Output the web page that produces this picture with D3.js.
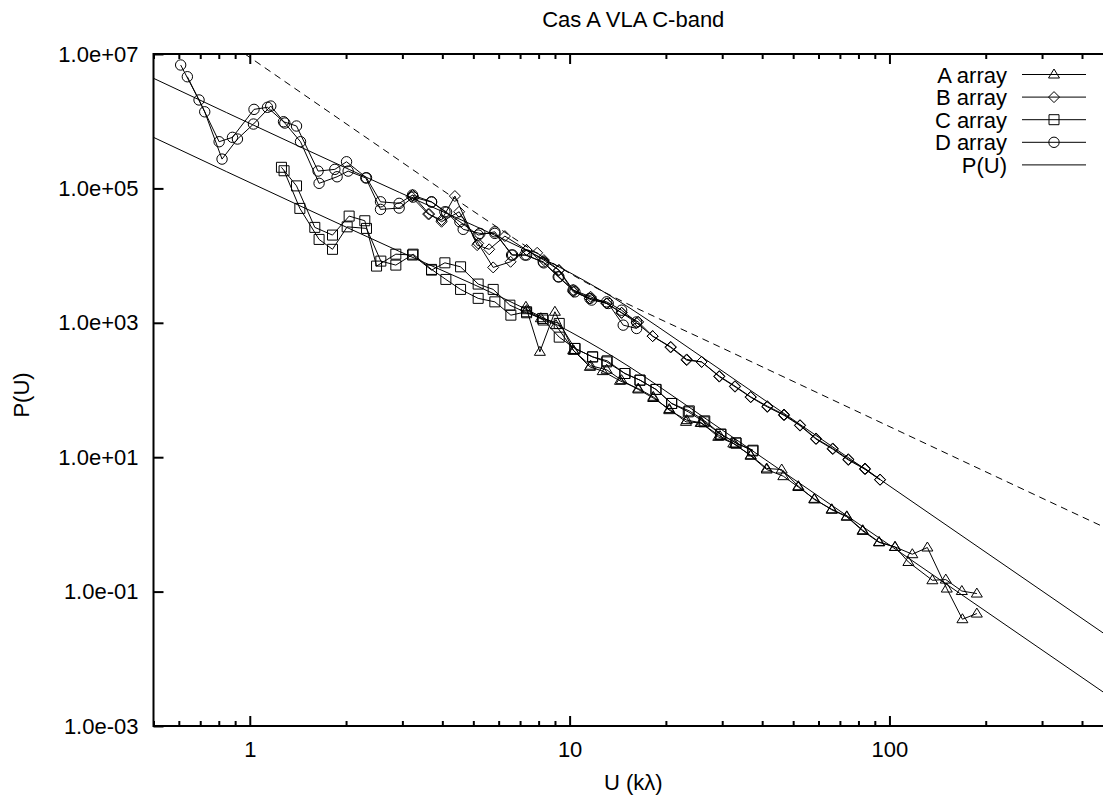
<!DOCTYPE html>
<html><head><meta charset="utf-8">
<script src="https://cdn.jsdelivr.net/npm/d3@7"></script>
<style>
body{margin:0;background:#fff}
text{font-family:"Liberation Sans",Arial,Helvetica,sans-serif;font-size:22px;fill:#000}
</style></head><body>
<svg id="chart" width="1103" height="797"></svg>
<script>
// ---- data: U in kilo-wavelengths, P(U) power ----
// each array has two interleaved sub-series (two IFs)
const aU1 = [7.300, 8.073, 8.995, 10.26, 11.57, 12.69, 14.37, 16.39, 18.26, 20.49, 23.23, 25.87, 29.16, 32.49, 36.83, 41.33, 46.04, 51.90, 58.23, 66.01, 73.55, 82.50, 92.80, 104.1, 117.9, 131.4, 151.1, 169.1, 187.6];
const aP1 = [1730, 370, 1460, 392, 221, 191, 137, 105, 79.1, 50.1, 35.6, 32.4, 20.1, 16.0, 10.7, 6.79, 6.56, 3.70, 2.35, 1.68, 1.32, 0.819, 0.548, 0.462, 0.360, 0.453, 0.111, 0.0388, 0.0471];
const aU2 = [7.336, 8.131, 9.061, 10.31, 11.63, 13.06, 14.54, 16.39, 18.26, 20.49, 23.11, 25.69, 29.52, 32.89, 36.83, 41.33, 46.58, 51.90, 58.23, 66.01, 73.55, 82.50, 92.80, 104.1, 114.6, 136.2, 150.0, 168.4, 187.6];
const aP2 = [1540, 1170, 923, 382, 230, 200, 140, 102, 76, 52, 33.6, 32.4, 20.6, 15.6, 10.5, 6.56, 5.22, 3.6, 2.4, 1.65, 1.30, 0.80, 0.54, 0.462, 0.276, 0.1475, 0.151, 0.102, 0.0935];

const bU1 = [3.205, 3.612, 3.978, 4.378, 5.140, 5.605, 6.275, 7.336, 7.918, 9.260, 10.26, 11.63, 13.06, 14.54, 16.20, 18.18, 20.70, 23.23, 25.87, 29.38, 32.89, 36.83, 41.51, 46.81, 52.53, 58.94, 66.48, 74.37, 83.88, 93.46];
const bP1 = [75100, 41500, 33800, 76900, 14300, 12400, 19500, 12100, 11000, 6080, 3070, 2440, 1940, 1410, 999, 633, 439, 285, 262, 161, 114, 79.1, 57.4, 43.2, 30.0, 19.0, 13.5, 9.34, 6.79, 4.66];
const bU2 = [3.228, 3.638, 3.978, 4.515, 5.177, 5.768, 6.538, 7.336, 8.310, 9.260, 10.26, 11.57, 13.06, 14.54, 16.39, 18.18, 20.70, 23.23, 25.87, 29.38, 32.89, 36.83, 41.51, 46.81, 52.53, 58.94, 66.48, 74.37, 83.88, 93.46];
const bP2 = [79600, 41500, 31900, 44900, 15200, 6670, 8090, 12100, 8570, 6080, 2890, 2310, 1940, 1410, 1030, 633, 430, 278, 262, 158, 112, 78, 56, 42, 29.5, 18.6, 13.2, 9.1, 6.6, 4.6];

const cU1 = [1.256, 1.400, 1.597, 1.814, 2.045, 2.289, 2.491, 2.862, 3.228, 3.701, 4.074, 4.561, 5.177, 5.768, 6.505, 7.336, 8.233, 9.280, 10.39, 11.80, 13.11, 14.89, 16.60, 18.62, 20.85, 23.50, 26.31, 29.68, 33.13, 37.36];
const cP1 = [206000, 109000, 26300, 20200, 38700, 33000, 6980, 10500, 10200, 6080, 7810, 6810, 3770, 3140, 1830, 1410, 1160, 979, 415, 311, 272, 176, 140, 102, 63.0, 47.3, 33.6, 22.0, 16.3, 12.4];
const cU2 = [1.280, 1.434, 1.647, 1.814, 2.016, 2.317, 2.569, 2.862, 3.242, 3.701, 4.103, 4.561, 5.177, 5.838, 6.552, 7.336, 8.270, 9.280, 10.39, 11.80, 13.06, 14.89, 16.60, 18.62, 20.85, 23.67, 26.46, 29.73, 33.13, 37.47];
const cP2 = [183000, 50400, 17400, 12400, 26800, 25400, 8280, 7220, 10500, 6230, 4420, 3140, 2310, 2050, 1300, 1460, 1100, 612, 415, 311, 262, 176, 140, 102, 63.0, 48.9, 34.7, 22.0, 16.3, 12.7];

const dU1 = [0.608, 0.694, 0.802, 0.883, 1.031, 1.136, 1.275, 1.400, 1.635, 1.845, 2.007, 2.317, 2.563, 2.931, 3.228, 3.701, 4.074, 4.539, 5.177, 5.838, 6.585, 7.247, 8.270, 9.260, 10.26, 11.57, 13.06, 14.54, 16.20];
const dP1 = [6860000, 2070000, 495000, 575000, 1500000, 1610000, 982000, 848000, 181000, 192000, 249000, 144000, 63200, 59900, 79600, 63200, 44900, 31900, 20200, 22600, 10200, 10200, 8090, 4830, 3070, 2310, 2050, 1540, 1030];
const dU2 = [0.638, 0.723, 0.819, 0.915, 1.027, 1.163, 1.287, 1.441, 1.647, 1.875, 2.030, 2.306, 2.563, 2.931, 3.242, 3.701, 4.124, 4.648, 5.241, 5.838, 6.633, 7.336, 8.300, 9.213, 10.39, 11.72, 13.21, 14.71, 16.20];
const dP2 = [4590000, 1380000, 273000, 543000, 907000, 1680000, 939000, 495000, 119000, 149000, 181000, 143000, 48700, 51000, 74300, 62600, 44400, 24600, 21400, 21400, 10200, 10200, 7800, 4830, 2890, 2180, 1940, 923, 824];

// model power spectrum P(U): one curve through B+D, one through A+C
const modelU = [0.5, 1.434, 2.945, 6.053, 8.073, 10.02, 12.44, 15.44, 19.16, 25.56, 93.46, 500];
const modelHighP = [4.35e6, 4.17e5, 8.67e4, 1.854e4, 9500, 5580, 3120, 1654, 833, 324.6, 4.66, 0.0192];
const modelLowP = [5.75e5, 5.51e4, 1.147e4, 2453, 1257, 739, 412.6, 218.8, 110.3, 42.9, 0.616, 0.00254];

// dashed reference curve
const refU = [0.966, 2.374, 5.91, 8.073, 10.77, 14.37, 19.16, 25.56, 45.5, 455.8, 500];
const refP = [1.0e7, 5.24e5, 2.69e4, 1.017e4, 4470, 2175, 1134, 601.5, 166, 0.97, 0.79];

// axes
const xTickValues = [1, 10, 100];
const xTickLabels = ["1", "10", "100"];
const yTickValues = [1e-3, 1e-1, 1e1, 1e3, 1e5, 1e7];
const yTickLabels = ["1.0e-03", "1.0e-01", "1.0e+01", "1.0e+03", "1.0e+05", "1.0e+07"];

const titleText = "Cas A VLA C-band";
const xLabelText = "U (k\u03bb)";
const yLabelText = "P(U)";

// ---- layout ----
const L = 153.5, R = 1113, T = 54, B = 726;
const svg = d3.select("#chart");
const x = d3.scaleLog().domain([0.5, 500]).range([L, R]);
const y = d3.scaleLog().domain([1e-3, 1e7]).range([B, T]);

svg.append("defs").append("clipPath").attr("id", "plotclip")
  .append("rect").attr("x", L).attr("y", T).attr("width", R - L).attr("height", B - T);

const zip = (u, p) => u.map((v, i) => [v, p[i]]);
const line = d3.line().x(d => x(d[0])).y(d => y(d[1]));
const smooth = d3.line().x(d => x(d[0])).y(d => y(d[1])).curve(d3.curveMonotoneX);

// minor x ticks
const xMinor = [];
for (let dec = 0.1; dec <= 100; dec *= 10) {
  for (let k = 2; k <= 9; k++) {
    const v = +(k * dec).toPrecision(3);
    if (v >= 0.5 && v <= 500) xMinor.push(v);
  }
}

const plot = svg.append("g").attr("clip-path", "url(#plotclip)");

// model curves
[modelHighP, modelLowP].forEach(p => {
  plot.append("path").attr("d", smooth(zip(modelU, p)))
    .attr("fill", "none").attr("stroke", "#000").attr("stroke-width", 1);
});
// dashed curve
plot.append("path").attr("d", smooth(zip(refU, refP)))
  .attr("fill", "none").attr("stroke", "#000").attr("stroke-width", 1)
  .attr("stroke-dasharray", "7,5");

// marker shapes
const markers = {
  triangle: "M0,-5.5L5.5,3.5L-5.5,3.5Z",
  diamond: "M0,-5.5L5.5,0L0,5.5L-5.5,0Z",
  square: "M-5,-5H5V5H-5Z",
  circle: d3.arc()({innerRadius: 0, outerRadius: 5.2, startAngle: 0, endAngle: 2 * Math.PI})
};

const series = [
  {name: "A array", shape: "triangle", parts: [zip(aU1, aP1), zip(aU2, aP2)]},
  {name: "B array", shape: "diamond", parts: [zip(bU1, bP1), zip(bU2, bP2)]},
  {name: "C array", shape: "square", parts: [zip(cU1, cP1), zip(cU2, cP2)]},
  {name: "D array", shape: "circle", parts: [zip(dU1, dP1), zip(dU2, dP2)]}
];

series.forEach(s => {
  s.parts.forEach(pts => {
    plot.append("path").attr("d", line(pts))
      .attr("fill", "none").attr("stroke", "#000").attr("stroke-width", 1);
    plot.selectAll(null).data(pts).enter().append("path")
      .attr("d", markers[s.shape])
      .attr("transform", d => `translate(${x(d[0])},${y(d[1])})`)
      .attr("fill", "none").attr("stroke", "#000").attr("stroke-width", 1);
  });
});

// frame
svg.append("rect").attr("x", L).attr("y", T).attr("width", R - L).attr("height", B - T)
  .attr("fill", "none").attr("stroke", "#000").attr("stroke-width", 2);

// x axes (bottom with labels, top mirrored)
const xAxisB = d3.axisBottom(x).tickValues(xTickValues)
  .tickFormat((d, i) => xTickLabels[i]).tickSizeInner(-10).tickSizeOuter(0).tickPadding(15);
svg.append("g").attr("transform", `translate(0,${B})`).call(xAxisB);
const xAxisBm = d3.axisBottom(x).tickValues(xMinor).tickFormat("").tickSizeInner(-5).tickSizeOuter(0);
svg.append("g").attr("transform", `translate(0,${B})`).call(xAxisBm);
const xAxisT = d3.axisTop(x).tickValues(xTickValues).tickFormat("").tickSizeInner(-10).tickSizeOuter(0);
svg.append("g").attr("transform", `translate(0,${T})`).call(xAxisT);
const xAxisTm = d3.axisTop(x).tickValues(xMinor).tickFormat("").tickSizeInner(-5).tickSizeOuter(0);
svg.append("g").attr("transform", `translate(0,${T})`).call(xAxisTm);

// y axis
const yAxis = d3.axisLeft(y).tickValues(yTickValues)
  .tickFormat((d, i) => yTickLabels[i]).tickSizeInner(-10).tickSizeOuter(0).tickPadding(15);
svg.append("g").attr("transform", `translate(${L},0)`).call(yAxis);

svg.selectAll(".domain").remove();
svg.selectAll(".tick line").attr("stroke", "#000").attr("stroke-width", 2);
svg.selectAll(".tick text").attr("font-family", null).attr("font-size", null);

// titles
svg.append("text").attr("x", (L + R) / 2).attr("y", 27).attr("text-anchor", "middle").text(titleText);
svg.append("text").attr("x", (L + R) / 2).attr("y", 790).attr("text-anchor", "middle").text(xLabelText);
svg.append("text").attr("transform", "translate(29,395) rotate(-90)")
  .attr("text-anchor", "middle").text(yLabelText);

// legend
const legendNames = ["A array", "B array", "C array", "D array", "P(U)"];
const legendShapes = ["triangle", "diamond", "square", "circle", null];
const leg = svg.append("g");
legendNames.forEach((name, i) => {
  const cy = 74.5 + i * 22.6;
  leg.append("text").attr("x", 1007).attr("y", cy + 8).attr("text-anchor", "end").text(name);
  leg.append("line").attr("x1", 1022).attr("x2", 1086).attr("y1", cy).attr("y2", cy)
    .attr("stroke", "#000").attr("stroke-width", 1);
  if (legendShapes[i]) {
    leg.append("path").attr("d", markers[legendShapes[i]])
      .attr("transform", `translate(1054,${cy})`)
      .attr("fill", "none").attr("stroke", "#000").attr("stroke-width", 1);
  }
});
</script>
</body></html>
